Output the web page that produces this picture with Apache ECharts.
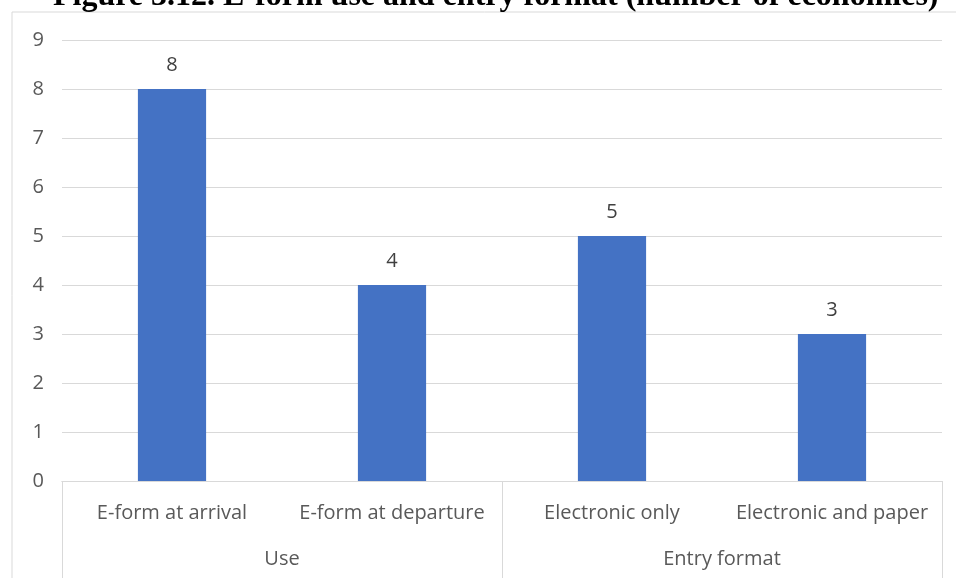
<!DOCTYPE html>
<html>
<head>
<meta charset="utf-8">
<script src="https://cdn.jsdelivr.net/npm/echarts@6/dist/echarts.min.js"></script>
<style>
  html, body { margin: 0; padding: 0; background: #fff; }
  #myChart { width: 956px; height: 578px; }
</style>
</head>
<body>
<div id="myChart"></div>
<script>
// data
var categories = ["E-form at arrival", "E-form at departure", "Electronic only", "Electronic and paper"];
var groups = ["Use", "Entry format"];
var values = [8, 4, 5, 3];
var yTicks = [0, 1, 2, 3, 4, 5, 6, 7, 8, 9];

var labelFont = "'Open Sans', Lato, sans-serif";
var gridColor = "#d9d9d9";

var myChart = echarts.init(document.getElementById("myChart"));
myChart.setOption({
  animation: false,
  title: {
    text: "Figure 3.12. E-form use and entry format (number of economies)",
    left: 48,
    top: -24,
    textStyle: {
      fontFamily: "'Liberation Serif', serif",
      fontWeight: "bold",
      fontSize: 32,
      color: "#000"
    }
  },
  graphic: [
    {
      type: "rect",
      shape: { x: 12, y: 12, width: 1000, height: 1000 },
      style: { fill: "none", stroke: gridColor, lineWidth: 1 },
      silent: true
    }
  ],
  grid: { left: 62, right: 14, top: 40, bottom: 97 },
  xAxis: [
    {
      type: "category",
      data: categories,
      position: "bottom",
      axisLine: { show: true, lineStyle: { color: gridColor } },
      axisTick: { show: false },
      axisLabel: { color: "#595959", fontSize: 20, fontFamily: labelFont, margin: 22, interval: 0 }
    },
    {
      type: "category",
      data: groups,
      position: "bottom",
      axisLine: { show: true, lineStyle: { color: gridColor } },
      axisTick: { show: true, length: 100, lineStyle: { color: gridColor } },
      axisLabel: { color: "#595959", fontSize: 20, fontFamily: labelFont, margin: 68 }
    }
  ],
  yAxis: {
    type: "value",
    min: yTicks[0],
    max: yTicks[yTicks.length - 1],
    interval: 1,
    axisLine: { show: false },
    axisTick: { show: false },
    axisLabel: { color: "#595959", fontSize: 20, fontFamily: labelFont, margin: 18 },
    splitLine: { lineStyle: { color: gridColor } }
  },
  series: [
    {
      type: "bar",
      xAxisIndex: 0,
      data: values,
      barWidth: "31%",
      itemStyle: { color: "#4472c4" },
      label: {
        show: true,
        position: "top",
        distance: 14,
        color: "#404040",
        fontSize: 20,
        fontFamily: labelFont
      }
    }
  ]
});
</script>
</body>
</html>
